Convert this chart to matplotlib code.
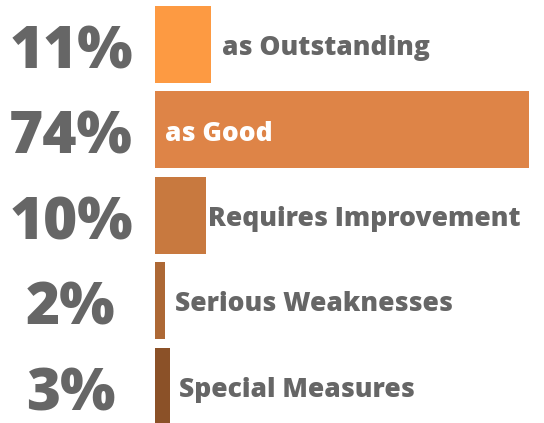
import matplotlib.pyplot as plt

# data
categories = ['as Outstanding', 'as Good', 'Requires Improvement',
              'Serious Weaknesses', 'Special Measures']
values = [11, 74, 10, 2, 3]
pct_labels = ['11%', '74%', '10%', '2%', '3%']
colors = ['#FD9A42', '#DE8447', '#C8793F', '#AD6835', '#8B5128']
label_colors = ['#666666', 'white', '#666666', '#666666', '#666666']
label_gap = [2.2, -72.0, 0.4, 2.0, 1.8]  # offset from bar end (in % units)

plt.rcParams['font.family'] = ['Open Sans', 'DejaVu Sans']

fig = plt.figure(figsize=(5.44, 4.23), dpi=100)
ax = fig.add_axes([0, 0, 1, 1])

px = 374 / 74.0  # pixels per percent
pitch = 85.4
ax.set_xlim(-155 / px, (544 - 155) / px)
ax.set_ylim((423 - 44.5) / pitch, -44.5 / pitch)

y = list(range(len(values)))
ax.barh(y, values, height=0.9, color=colors, left=0)

for i, v in enumerate(values):
    ax.text(-84 / px, i + 0.28, pct_labels[i], ha='center', va='baseline',
            fontsize=42, fontweight='heavy', color='#666666')
    ax.text(v + label_gap[i], i + 0.125, categories[i], ha='left', va='baseline',
            fontsize=19, fontweight='heavy', color=label_colors[i])

ax.axis('off')
fig.savefig('out.png', dpi=100)
